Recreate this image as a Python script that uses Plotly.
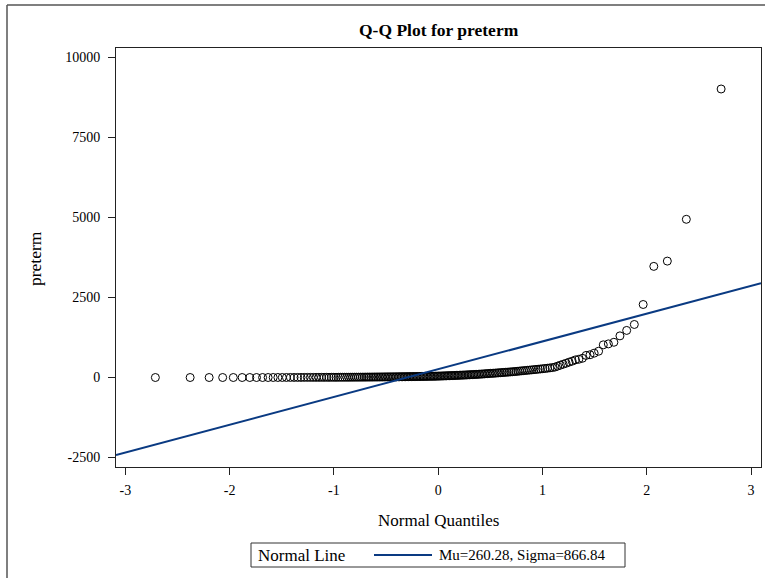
from statistics import NormalDist
import plotly.graph_objects as go

# Observed preterm counts (sorted ascending)
preterm = [
    0, 0, 0, 0, 0, 0, 0, 0, 0, 0, 1, 1, 1, 1, 2, 2, 2, 2, 3, 3,
    3, 3, 4, 4, 4, 5, 5, 5, 6, 6, 6, 7, 7, 7, 8, 8, 8, 9, 9, 10,
    10, 10, 11, 11, 12,
    12, 13, 13, 14, 14, 15, 15, 16, 16, 17, 17, 18, 18, 19, 19, 20, 20,
    21, 21, 22, 22, 23, 24, 24, 25, 25, 26, 27, 27, 28, 29, 29, 30, 31,
    31, 32, 33, 34, 34, 35, 36, 37, 38, 38, 39, 40, 41, 42, 44,
    45, 47, 48, 50, 52, 53, 55, 57, 58, 60, 62, 64, 66, 68, 70, 72, 74,
    76, 78, 80, 83, 85, 88, 90, 93, 95, 98, 101, 104, 107, 110, 114, 118,
    121, 125, 130,
    130, 134, 138, 142, 146, 150, 154, 158, 162, 166, 170, 175, 180, 185,
    190, 196, 202, 208, 214, 220, 226, 232, 238, 245, 252, 259, 266, 274,
    282, 290, 300, 310,
    325, 355, 385, 415, 445, 480, 510, 550, 570, 600, 690, 710, 760, 820,
    1020, 1050, 1100, 1300, 1470, 1656, 2280, 3470, 3635, 4940, 9010,
]

# Fitted normal reference line parameters
MU = 260.28
SIGMA = 866.84

x_ticks = [-3, -2, -1, 0, 1, 2, 3]
x_tick_text = ["-3", "-2", "-1", "0", "1", "2", "3"]
y_ticks = [-2500, 0, 2500, 5000, 7500, 10000]
y_tick_text = ["-2500", "0", "2500", "5000", "7500", "10000"]
X_RANGE = [-3.09, 3.095]
Y_RANGE = [-2795, 10290]

# Normal quantiles (Blom plotting positions)
values = sorted(preterm)
n = len(values)
nd = NormalDist()
quantiles = [nd.inv_cdf((i + 1 - 0.375) / (n + 0.25)) for i in range(n)]

W, H = 765, 578
ML, MR, MT, MB = 116, 4, 48, 111
PW, PH = W - ML - MR, H - MT - MB


def fx(px):
    return (px - ML) / PW


def fy(py):
    return 1 - (py - MT) / PH


SERIF = "Liberation Serif, Times New Roman, serif"
NAVY = "#0A3A82"

fig = go.Figure()
fig.add_trace(go.Scatter(
    x=quantiles, y=values, mode="markers",
    marker=dict(symbol="circle-open", size=8, color="black",
                line=dict(width=1, color="black")),
    showlegend=False, cliponaxis=False,
))
fig.add_trace(go.Scatter(
    x=X_RANGE, y=[MU + SIGMA * q for q in X_RANGE], mode="lines",
    line=dict(color=NAVY, width=2), showlegend=False,
))

axis_common = dict(
    showline=True, linecolor="#222", linewidth=1, mirror=True,
    ticks="outside", ticklen=7, tickcolor="#222", tickwidth=1,
    showgrid=False, zeroline=False,
    tickfont=dict(family=SERIF, size=14, color="black"),
)
fig.update_xaxes(range=X_RANGE, tickvals=x_ticks, ticktext=x_tick_text,
                 ticklabelstandoff=3, **axis_common)
fig.update_yaxes(range=Y_RANGE, tickvals=y_ticks, ticktext=y_tick_text,
                 ticklabelstandoff=5, **axis_common)

shapes = [
    # outer frame
    dict(type="line", xref="paper", yref="paper",
         x0=fx(7), x1=fx(7), y0=fy(5), y1=fy(H + 5),
         line=dict(color="#555", width=1.5)),
    dict(type="line", xref="paper", yref="paper",
         x0=fx(7), x1=fx(W + 5), y0=fy(5), y1=fy(5),
         line=dict(color="#555", width=1.5)),
    # legend box and sample line
    dict(type="rect", xref="paper", yref="paper",
         x0=fx(251), x1=fx(625), y0=fy(543), y1=fy(567),
         line=dict(color="#333", width=1)),
    dict(type="line", xref="paper", yref="paper",
         x0=fx(374), x1=fx(432), y0=fy(555), y1=fy(555),
         line=dict(color=NAVY, width=2)),
]

annotations = [
    dict(text="<b>Q-Q Plot for preterm</b>", xref="paper", yref="paper",
         x=0.5, y=fy(30), xanchor="center", yanchor="middle", showarrow=False,
         font=dict(family=SERIF, size=17.5, color="black")),
    dict(text="Normal Quantiles", xref="paper", yref="paper",
         x=0.5, y=fy(520), xanchor="center", yanchor="middle", showarrow=False,
         font=dict(family=SERIF, size=17, color="black")),
    dict(text="preterm", xref="paper", yref="paper", textangle=-90,
         x=fx(35), y=fy(258), xanchor="center", yanchor="middle", showarrow=False,
         font=dict(family=SERIF, size=17.5, color="black")),
    dict(text="Normal Line", xref="paper", yref="paper",
         x=fx(256), y=fy(555), xanchor="left", yanchor="middle", showarrow=False,
         font=dict(family=SERIF, size=17, color="black")),
    dict(text=f"Mu={MU:.2f}, Sigma={SIGMA:.2f}", xref="paper", yref="paper",
         x=fx(437), y=fy(555), xanchor="left", yanchor="middle", showarrow=False,
         font=dict(family=SERIF, size=15, color="black")),
]

fig.update_layout(
    width=W, height=H,
    margin=dict(l=ML, r=MR, t=MT, b=MB, pad=0),
    paper_bgcolor="white", plot_bgcolor="white",
    shapes=shapes, annotations=annotations,
    showlegend=False,
)

fig.write_html("out.html")
